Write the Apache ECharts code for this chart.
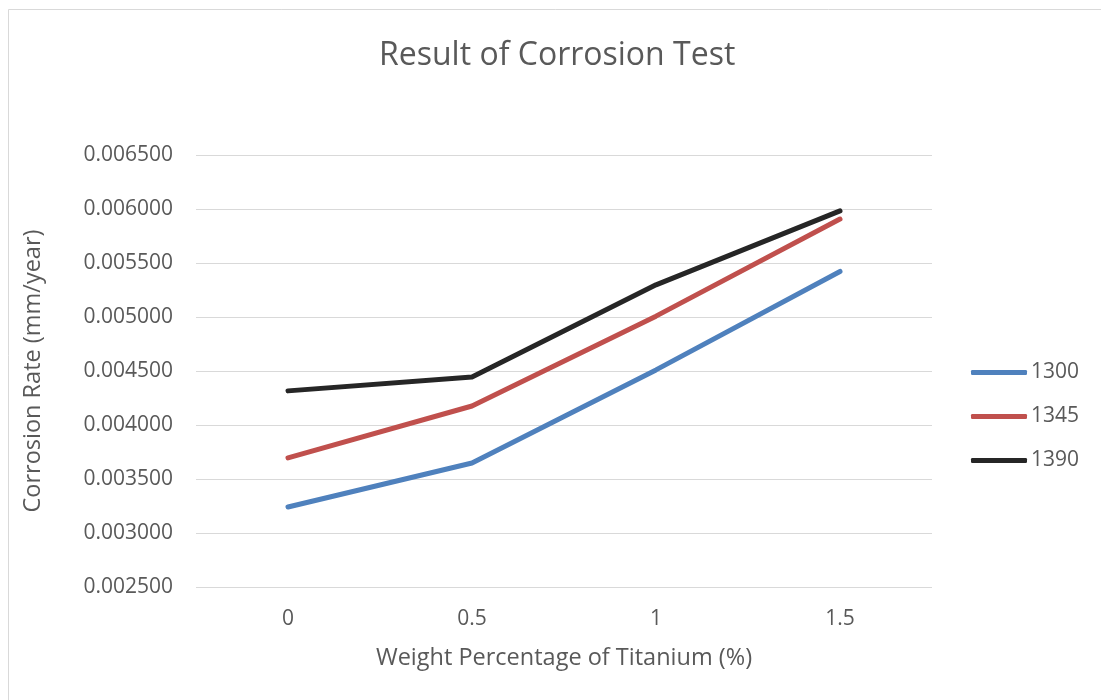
<!DOCTYPE html>
<html>
<head>
<meta charset="utf-8">
<script src="https://cdn.jsdelivr.net/npm/echarts@6/dist/echarts.min.js"></script>
<style>
  html, body { margin: 0; padding: 0; background: #fff; }
  #chart { width: 1101px; height: 700px; }
</style>
</head>
<body>
<div id="chart"></div>
<script>
// Corrosion rate (mm/year) by titanium weight percentage, one line per temperature
const categories = ['0', '0.5', '1', '1.5'];
const seriesNames = ['1300', '1345', '1390'];
const rate1300 = [0.003241, 0.003648, 0.004510, 0.005422];
const rate1345 = [0.003696, 0.004176, 0.005008, 0.005907];
const rate1390 = [0.004316, 0.004444, 0.005298, 0.005982];
const colors = ['#4F81BD', '#C0504D', '#262626'];

const FONT = 'Open Sans, Lato, sans-serif';
const TEXT = '#595959';

const chart = echarts.init(document.getElementById('chart'));
const values = [rate1300, rate1345, rate1390];

chart.setOption({
  backgroundColor: '#fff',
  animation: false,
  title: {
    text: 'Result of Corrosion Test',
    left: 374,
    top: 35,
    textStyle: { fontFamily: FONT, fontSize: 32, fontWeight: 'normal', color: TEXT }
  },
  graphic: [{
    type: 'rect',
    shape: { x: 8.5, y: 9.5, width: 1200, height: 800 },
    style: { fill: 'none', stroke: '#d9d9d9', lineWidth: 1 },
    silent: true
  }],
  legend: {
    orient: 'vertical',
    left: 966,
    top: 357,
    itemWidth: 56,
    itemHeight: 5,
    itemGap: 23,
    icon: 'roundRect',
    textStyle: { fontFamily: FONT, fontSize: 21, color: TEXT, padding: [0, 0, 0, -1] },
    data: seriesNames
  },
  grid: { left: 196, right: 169, top: 155, bottom: 113, containLabel: false },
  xAxis: {
    type: 'category',
    data: categories,
    boundaryGap: true,
    name: 'Weight Percentage of Titanium (%)',
    nameLocation: 'middle',
    nameGap: 59,
    nameTextStyle: { fontFamily: FONT, fontSize: 23.5, color: TEXT },
    axisLine: { show: false },
    axisTick: { show: false },
    axisLabel: { fontFamily: FONT, fontSize: 21, color: TEXT, margin: 22 }
  },
  yAxis: {
    type: 'value',
    min: 0.0025,
    max: 0.0065,
    interval: 0.0005,
    name: 'Corrosion Rate (mm/year)',
    nameLocation: 'middle',
    nameGap: 151,
    nameTextStyle: { fontFamily: FONT, fontSize: 23.5, color: TEXT },
    axisLine: { show: false },
    axisTick: { show: false },
    splitLine: { lineStyle: { color: '#d9d9d9', width: 1 } },
    axisLabel: {
      fontFamily: FONT, fontSize: 21, color: TEXT, margin: 23,
      formatter: v => v.toFixed(6)
    }
  },
  series: seriesNames.map((name, i) => ({
    name,
    type: 'line',
    data: values[i],
    showSymbol: false,
    symbol: 'none',
    color: colors[i],
    lineStyle: { width: 5, color: colors[i], cap: 'round', join: 'round' }
  }))
});
</script>
</body>
</html>
